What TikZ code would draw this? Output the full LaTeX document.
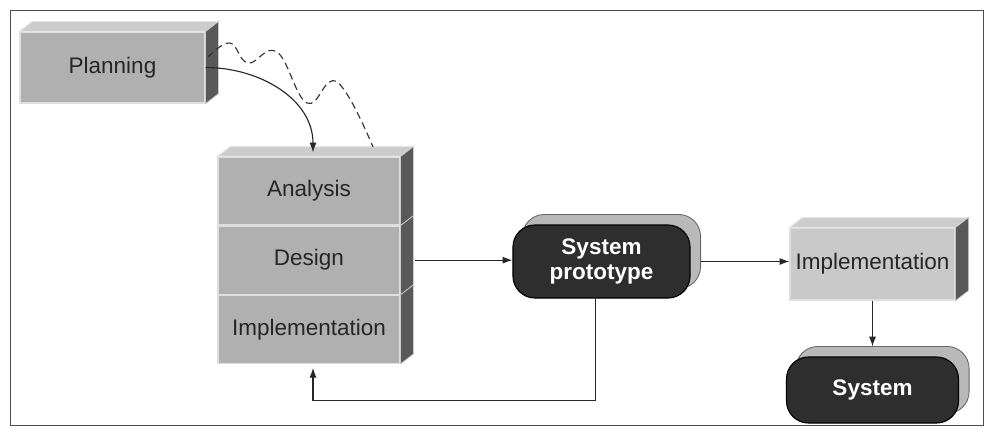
\documentclass[tikz,border=0pt]{standalone}
\usepackage{fontspec}
\setmainfont{Liberation Sans}
\usetikzlibrary{positioning,arrows.meta,backgrounds}

\begin{document}
\begin{tikzpicture}[x=0.025cm, y=-0.025cm,
    slab/.style = {draw=gray!25, line width=0.8pt, fill=gray!62, inner sep=0pt,
                   text=black!85, font=\fontsize{16}{19}\selectfont},
    pale/.style = {slab, fill=gray!42},
    pill/.style = {draw=black, line width=0.8pt, fill=black!82, rounded corners=0.55cm,
                   inner sep=0pt, text=white, align=center,
                   font=\bfseries\fontsize{16}{18}\selectfont},
    topface/.style = {fill=gray!40, draw=gray!20, line width=0.8pt},
    sideface/.style = {fill=black!65, draw=gray!40, line width=0.5pt},
    backface/.style = {fill=gray!55, draw=black!60, line width=0.6pt, rounded corners=0.55cm},
    link/.style = {draw=black!85, line width=0.8pt, -{Latex[length=7pt,width=5pt]}}]

    \useasboundingbox (0,0) rectangle (990,437);

    \node[slab, minimum width=4.625cm, minimum height=1.775cm] (plan) at (112.5,67.5) {Planning};
    \node[slab, minimum width=4.55cm, minimum height=1.7cm] (ana) at (309,191) {Analysis};
    \node[slab, minimum width=4.55cm, minimum height=1.7cm, below=0pt of ana] (des) {Design};
    \node[slab, minimum width=4.55cm, minimum height=1.7cm, below=0pt of des] (imp) {Implementation};
    \node[pill, minimum width=4.425cm, minimum height=1.825cm] (proto) at (601.5,261.5) {System\\prototype};
    \node[pale, minimum width=4.125cm, minimum height=1.8cm] (impl) at (872.5,264) {Implementation};
    \node[pill, minimum width=4.3cm, minimum height=1.65cm] (sys) at (872.5,390) {System};

    % extruded faces
    \foreach \n in {plan,ana,impl}
        \draw[topface] (\n.north west) -- ([shift={(13,-10)}]\n.north west)
            -- ([shift={(13,-10)}]\n.north east) -- (\n.north east) -- cycle;
    \foreach \n in {plan,ana,des,imp,impl}
        \draw[sideface] (\n.north east) -- ([shift={(13,-10)}]\n.north east)
            -- ([shift={(13,-10)}]\n.south east) -- (\n.south east) -- cycle;

    \begin{scope}[on background layer]
        \draw[black!70, line width=0.6pt] (10,10) rectangle (983,425);
        \foreach \n in {proto,sys}
            \draw[backface] ([shift={(10,-10)}]\n.south west) rectangle ([shift={(10,-10)}]\n.north east);
    \end{scope}

    \coordinate (wave) at (373,147);
    \draw[black!80, line width=0.8pt, dashed, dash pattern=on 5pt off 3pt]
        plot[smooth, tension=0.7] coordinates {(208,57) (230,43) (248,63) (277,52) (307,103) (337,82) (wave)};

    \draw[link] (plan.east) to[out=0, in=90] ([shift={(4,-4)}]ana.north);
    \draw[link] ([xshift=10pt]des.east) -- (des.east -| proto.west);
    \draw[link] ([shift={(10,0)}]proto.east) -- (proto.east -| impl.west);
    \draw[link] (impl.south) -- ([shift={(0,-10)}]sys.north);
    \draw[link] ([shift={(-6,0)}]proto.south) -- ++(0,102) -| ([shift={(4,4)}]imp.south);
\end{tikzpicture}
\end{document}
